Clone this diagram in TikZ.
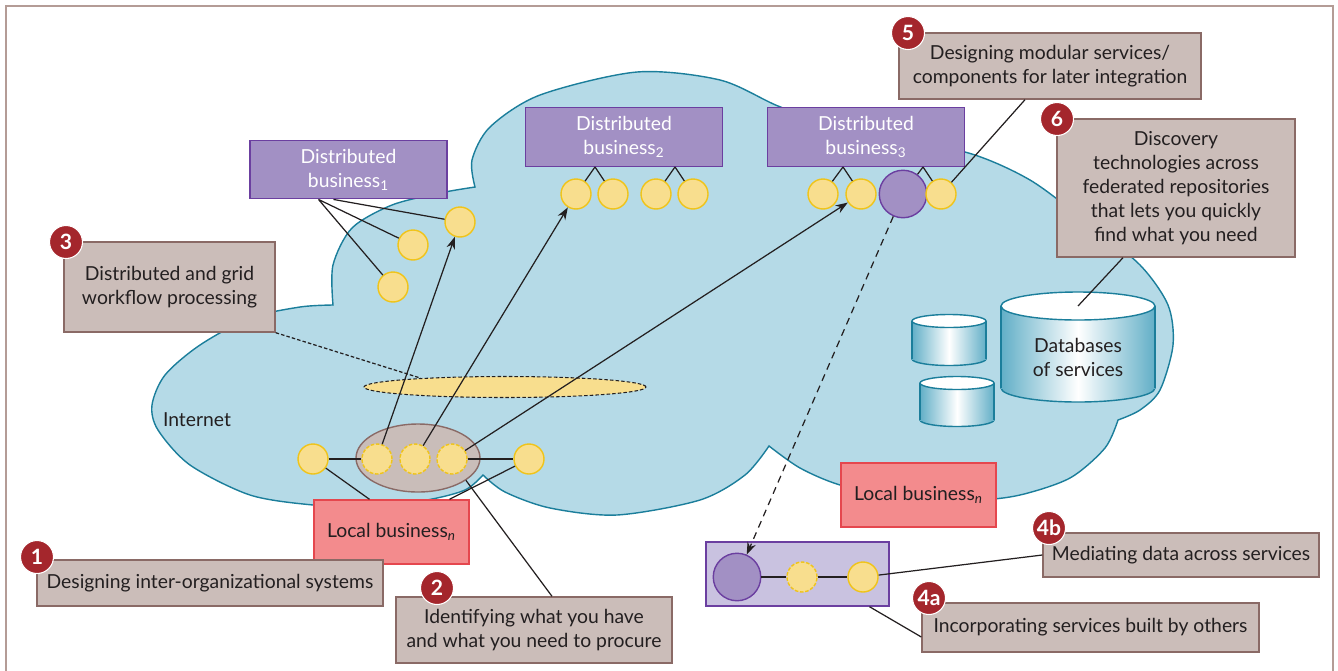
\documentclass[tikz,border=0pt]{standalone}
\usepackage{fontspec}
\setmainfont{Lato}
\usetikzlibrary{calc,shapes.geometric,arrows.meta}
\definecolor{cloudfill}{HTML}{B5DAE7}
\definecolor{cloudline}{HTML}{1B7E9B}
\definecolor{distfill}{HTML}{A290C4}
\definecolor{distline}{HTML}{6B3FA0}
\definecolor{svcfill}{HTML}{F8DE8E}
\definecolor{svcline}{HTML}{F0C419}
\definecolor{notefill}{HTML}{CBBDB9}
\definecolor{noteline}{HTML}{8A6A66}
\definecolor{localfill}{HTML}{F38B8D}
\definecolor{localline}{HTML}{E5474E}
\definecolor{badgefill}{HTML}{A4262C}
\definecolor{groupfill}{HTML}{C9BDB9}
\definecolor{compfill}{HTML}{C9C2E0}
\definecolor{frameline}{HTML}{B49C96}
\definecolor{inktext}{HTML}{231F20}
\definecolor{cylside}{HTML}{62AFC7}
\newcommand{\dbdrum}[5]{%
	\shade[left color=cylside,right color=cylside,middle color=white] (#1,#3) ellipse[x radius=#4,y radius=#5];
	\draw[cloudline,line width=0.8pt] (#1,#3) ellipse[x radius=#4,y radius=#5];
	\shade[left color=cylside,right color=cylside,middle color=white] ({#1-#4},#2) rectangle ({#1+#4},#3);
	\draw[cloudline,line width=0.8pt] ({#1-#4},#2) -- ({#1-#4},#3) ({#1+#4},#2) -- ({#1+#4},#3);
	\draw[cloudline,line width=0.8pt,fill=white] (#1,#2) ellipse[x radius=#4,y radius=#5];}

\begin{document}
\begin{tikzpicture}[x=0.02cm,y=-0.02cm,
	every node/.style={font=\fontsize{11}{13.7}\selectfont,text=inktext},
	distbox/.style={draw=distline,fill=distfill,line width=0.8pt,minimum width=3.94cm,minimum height=1.17cm,align=center,text=white,inner sep=0pt},
	svc/.style={circle,draw=svcline,fill=svcfill,line width=0.8pt,minimum size=0.6cm,inner sep=0pt},
	svcdash/.style={svc,dash pattern=on 2pt off 1pt},
	purp/.style={circle,draw=distline,fill=distfill,line width=0.8pt,minimum size=0.95cm,inner sep=0pt},
	note/.style={draw=noteline,fill=notefill,line width=0.8pt,align=center,inner sep=0pt},
	badge/.style={circle,fill=badgefill,draw=white,line width=0.6pt,minimum size=0.66cm,inner sep=0pt,text=white,font=\fontsize{12}{12}\selectfont\bfseries},
	localbox/.style={draw=localline,fill=localfill,line width=0.8pt,minimum width=3.1cm,minimum height=1.28cm,inner sep=0pt},
	link/.style={line width=0.7pt,draw=inktext},
	arr/.style={link,-{Stealth[length=7pt,width=5pt]}}]

	\useasboundingbox (0,0) rectangle (1338,670);
	\draw[frameline,line width=0.8pt] (6,672) -- (6,6) -- (1333,6) -- (1333,672);

	\draw[cloudline,fill=cloudfill,line width=0.8pt]
		plot[smooth] coordinates {(333,305) (333,265) (352,228) (392,205) (440,193) (475,187)}
		-- plot[smooth] coordinates {(475,187) (472,160) (490,127) (540,95) (637,72) (720,80) (778,106) (840,128) (880,140)}
		-- plot[smooth] coordinates {(880,140) (965,152) (1030,180) (1090,225) (1140,265) (1168,305) (1173,345) (1160,390) (1140,410) (1118,420)}
		-- plot[smooth] coordinates {(1118,420) (1105,448) (1070,478) (1020,495) (975,500) (900,498) (840,485) (800,468) (769,446)}
		-- plot[smooth] coordinates {(769,446) (745,475) (700,500) (617,515) (550,508) (505,492) (483,475)}
		-- plot[smooth] coordinates {(483,475) (465,490) (427,500) (370,507) (313,505) (250,495) (190,465) (158,430) (152,405) (165,375) (200,345) (250,318) (300,307) (333,305)}
		-- cycle;

	\node (inet) at (197,420) {Internet};

	\dbdrum{1078}{306}{388}{77}{14}
	\dbdrum{949}{321}{359}{37}{6.5}
	\dbdrum{957}{383}{420}{37}{6.5}
	\node[align=center] (dbs) at (1078,357) {Databases\\of services};
	\coordinate (dbtop) at (1078,306);

	\node[distbox] (db1) at (348.5,169.5) {Distributed\\business\textsubscript{1}};
	\node[distbox] (db2) at (624,137) {Distributed\\business\textsubscript{2}};
	\node[distbox] (db3) at (866,137) {Distributed\\business\textsubscript{3}};

	\node[svc] (s11) at (393,287) {}; \node[svc] (s12) at (413,245) {}; \node[svc] (s13) at (460,222) {};
	\node[svc] (s21) at (576,194) {}; \node[svc] (s22) at (613,194) {}; \node[svc] (s23) at (656,194) {}; \node[svc] (s24) at (693,194) {};
	\node[svc] (s31) at (823,194) {}; \node[svc] (s32) at (861,194) {}; \node[purp] (p3) at (903,194) {}; \node[svc] (s34) at (941,194) {};

	\node[ellipse,draw=noteline,fill=groupfill,line width=0.8pt,minimum width=2.48cm,minimum height=1.36cm,inner sep=0pt] (grp) at (418,458) {};
	\node[ellipse,draw=inktext,fill=svcfill,line width=0.6pt,dash pattern=on 2pt off 1.2pt,minimum width=5.64cm,minimum height=0.42cm,inner sep=0pt] (wf) at (505,387) {};
	\node[svc] (sl) at (313,459) {}; \node[svcdash] (g1) at (377,459) {}; \node[svcdash] (g2) at (415,459) {}; \node[svcdash] (g3) at (452,459) {}; \node[svc] (sr) at (529,459) {};

	\node[localbox] (loc1) at (391.5,532) {Local business\textsubscript{\itshape n}};
	\node[localbox] (loc2) at (918.5,495) {Local business\textsubscript{\itshape n}};

	\node[draw=distline,fill=compfill,line width=0.8pt,minimum width=3.66cm,minimum height=1.28cm,inner sep=0pt] (comp) at (797.5,574) {};
	\node[purp] (cp) at (737,577) {}; \node[svcdash] (s42) at (802,577) {}; \node[svc] (s43) at (863,577) {};

	\node[note,minimum width=6.92cm,minimum height=0.92cm] (n1) at (210,583) {Designing inter-organizational systems};
	\node[note,minimum width=5.52cm,minimum height=1.32cm] (n2) at (534,630) {Identifying what you have\\and what you need to procure};
	\node[note,minimum width=4.22cm,minimum height=1.8cm] (n3) at (169.5,287) {Distributed and grid\\workflow processing};
	\node[note,minimum width=6.04cm,minimum height=1.32cm] (n5) at (1050,66) {Designing modular services/\\components for later integration};
	\node[note,minimum width=4.76cm,minimum height=2.76cm] (n6) at (1176,188) {Discovery\\technologies across\\federated repositories\\that lets you quickly\\find what you need};
	\node[note,minimum width=5.52cm,minimum height=0.88cm] (n4b) at (1181,555) {Mediating data across services};
	\node[note,minimum width=6.74cm,minimum height=0.98cm] (n4a) at (1090.5,627.5) {Incorporating services built by others};

	\node[badge] (b1) at (37,557) {1}; \node[badge] (b2) at (437,588) {2}; \node[badge] (b3) at (66,242) {3};
	\node[badge] (b5) at (908,33) {5}; \node[badge] (b6) at (1057,119) {6};
	\node[badge] (b4b) at (1049,528) {4b}; \node[badge] (b4a) at (929,598) {4a};

	\draw[link] ($(db1.south)+(-30,0)$) -- (s11) ($(db1.south)+(-30,0)$) -- (s12) ($(db1.south)+(-15,0)$) -- (s13);
	\draw[link] ($(db2.south)+(-29,0)$) -- (s21) ($(db2.south)+(-29,0)$) -- (s22) ($(db2.south)+(51,0)$) -- (s23) ($(db2.south)+(51,0)$) -- (s24);
	\draw[link] ($(db3.south)+(-23,0)$) -- (s31) ($(db3.south)+(-23,0)$) -- (s32) ($(db3.south)+(57,0)$) -- (p3) ($(db3.south)+(57,0)$) -- (s34);
	\draw[link] ($(n5.south)+(-25,0)$) -- (s34);
	\draw[link] ($(n6.south)+(-53,0)$) -- (dbtop);
	\draw[link] (sl) -- (g1) (g3) -- (sr);
	\draw[link] (sl) -- ($(loc1.north)+(-22,0)$) (sr) -- ($(loc1.north)+(58,0)$);
	\draw[arr] (g1) -- (s13); \draw[arr] (g2) -- (s21); \draw[arr] (g3) -- (s32);
	\draw[link,dash pattern=on 2pt off 1.2pt] (n3.south east) -- (wf.174);
	\draw[link] ($(n2.north)+(18,0)$) -- (grp.-25);
	\draw[link,dash pattern=on 4pt off 3pt,-{Stealth[length=7pt,width=5pt]}] (p3) -- (cp);
	\draw[link] (cp) -- (s42) (s42) -- (s43);
	\draw[link] (s43) -- (n4b.west);
	\draw[link] ($(comp.south)+(72,0)$) -- ($(n4a.west)+(0,9.5)$);
\end{tikzpicture}
\end{document}
